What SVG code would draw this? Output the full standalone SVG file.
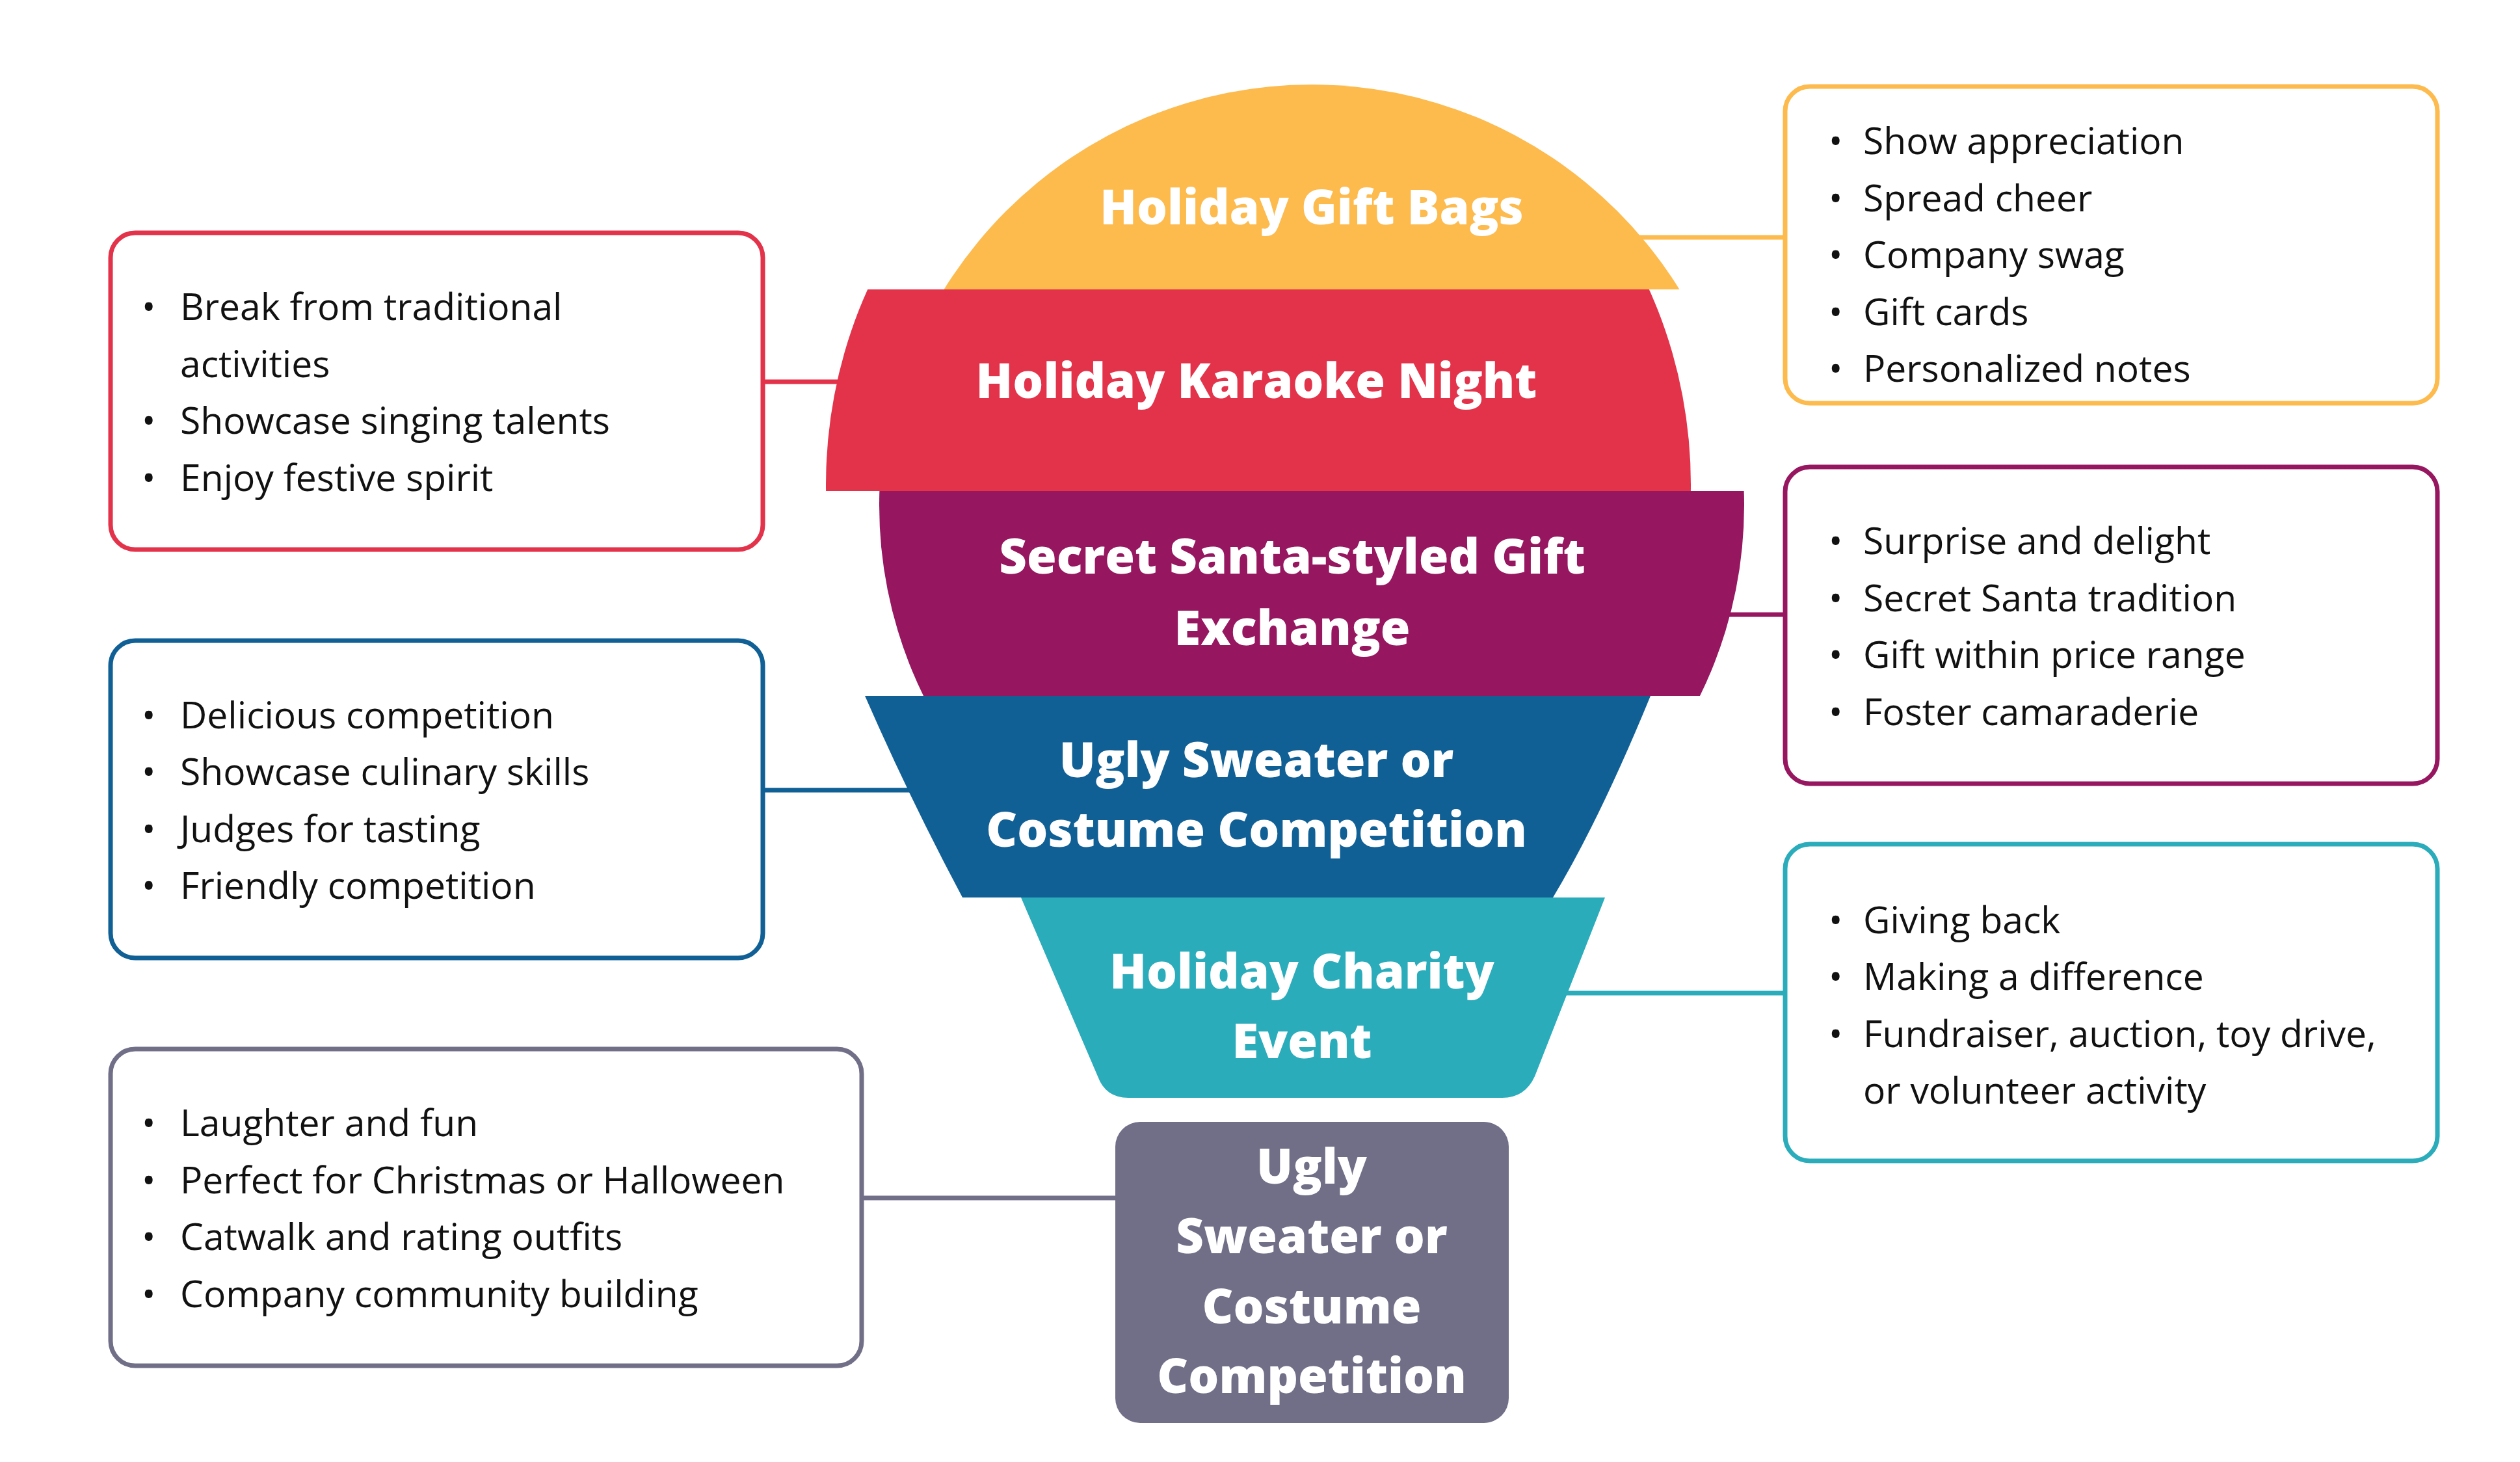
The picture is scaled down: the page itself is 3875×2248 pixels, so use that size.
<svg xmlns="http://www.w3.org/2000/svg" width="3875" height="2248" viewBox="0 0 3875 2248">
<style>
.t{font-family:"Open Sans","Liberation Sans",sans-serif;font-weight:800;font-size:74px;fill:#fff;text-anchor:middle}
.b{font-family:"Open Sans","Liberation Sans",sans-serif;font-size:57px;fill:#111}
.box{fill:#fff;stroke-width:7}
.c{stroke-width:7;fill:none}
</style>
<defs>
<clipPath id="cy"><rect x="0" y="0" width="3875" height="445"/></clipPath>
<clipPath id="cr"><rect x="0" y="445" width="3875" height="310"/></clipPath>
<clipPath id="cp"><rect x="0" y="755" width="3875" height="315"/></clipPath>
</defs>
<rect width="3875" height="2248" fill="#fff"/>
<g id="connectors">
<line class="c" stroke="#FDBA4D" x1="2500" y1="365" x2="2745" y2="365"/>
<line class="c" stroke="#E3334B" x1="1173" y1="587" x2="1320" y2="587"/>
<line class="c" stroke="#961660" x1="2650" y1="945" x2="2745" y2="945"/>
<line class="c" stroke="#106096" x1="1173" y1="1215" x2="1420" y2="1215"/>
<line class="c" stroke="#2AACBB" x1="2390" y1="1527" x2="2745" y2="1527"/>
<line class="c" stroke="#716F87" x1="1325" y1="1842" x2="1715" y2="1842"/>
</g>
<g id="n-gift">
<circle cx="2017" cy="795" r="665" fill="#FDBA4D" clip-path="url(#cy)"/>
<text class="t" x="2017" y="345">Holiday Gift Bags</text>
</g>
<g id="n-karaoke">
<ellipse cx="1935" cy="745" rx="665" ry="700" fill="#E3334B" clip-path="url(#cr)"/>
<text class="t" x="1932" y="612">Holiday Karaoke Night</text>
</g>
<g id="n-santa">
<circle cx="2017" cy="777" r="665" fill="#961660" clip-path="url(#cp)"/>
<text class="t" x="1987" y="882">Secret Santa-styled Gift</text>
<text class="t" x="1987" y="992">Exchange</text>
</g>
<g id="n-sweater">
<path d="M1330 1070 L2538 1070 Q2460 1260 2388 1380 L1480 1380 Q1400 1230 1330 1070 Z" fill="#106096"/>
<text class="t" x="1932" y="1195">Ugly Sweater or</text>
<text class="t" x="1932" y="1302">Costume Competition</text>
</g>
<g id="n-charity">
<path d="M1570 1380 L2468 1380 L2360 1655 Q2345 1688 2310 1688 L1735 1688 Q1700 1688 1688 1655 Z" fill="#2AACBB"/>
<text class="t" x="2002" y="1520">Holiday Charity</text>
<text class="t" x="2002" y="1627">Event</text>
</g>
<g id="n-grey">
<rect x="1715" y="1725" width="605" height="463" rx="38" fill="#716F87"/>
<text class="t" x="2017" y="1820">Ugly</text>
<text class="t" x="2017" y="1927">Sweater or</text>
<text class="t" x="2017" y="2035">Costume</text>
<text class="t" x="2017" y="2142">Competition</text>
</g>
<g id="b-yellow">
<rect class="box" stroke="#FDBA4D" x="2745" y="133" width="1003" height="487" rx="38"/>
<text class="b"><tspan x="2812" y="237">•</tspan><tspan x="2865" y="237">Show appreciation</tspan><tspan x="2812" y="325">•</tspan><tspan x="2865" y="325">Spread cheer</tspan><tspan x="2812" y="412">•</tspan><tspan x="2865" y="412">Company swag</tspan><tspan x="2812" y="500">•</tspan><tspan x="2865" y="500">Gift cards</tspan><tspan x="2812" y="587">•</tspan><tspan x="2865" y="587">Personalized notes</tspan></text>
</g>
<g id="b-red">
<rect class="box" stroke="#E3334B" x="170" y="358" width="1003" height="487" rx="38"/>
<text class="b"><tspan x="218" y="492">•</tspan><tspan x="277" y="492">Break from traditional</tspan><tspan x="277" y="580">activities</tspan><tspan x="218" y="667">•</tspan><tspan x="277" y="667">Showcase singing talents</tspan><tspan x="218" y="755">•</tspan><tspan x="277" y="755">Enjoy festive spirit</tspan></text>
</g>
<g id="b-purple">
<rect class="box" stroke="#961660" x="2745" y="718" width="1003" height="487" rx="38"/>
<text class="b"><tspan x="2812" y="852">•</tspan><tspan x="2865" y="852">Surprise and delight</tspan><tspan x="2812" y="940">•</tspan><tspan x="2865" y="940">Secret Santa tradition</tspan><tspan x="2812" y="1027">•</tspan><tspan x="2865" y="1027">Gift within price range</tspan><tspan x="2812" y="1115">•</tspan><tspan x="2865" y="1115">Foster camaraderie</tspan></text>
</g>
<g id="b-blue">
<rect class="box" stroke="#106096" x="170" y="985" width="1003" height="488" rx="38"/>
<text class="b"><tspan x="218" y="1120">•</tspan><tspan x="277" y="1120">Delicious competition</tspan><tspan x="218" y="1207">•</tspan><tspan x="277" y="1207">Showcase culinary skills</tspan><tspan x="218" y="1295">•</tspan><tspan x="277" y="1295">Judges for tasting</tspan><tspan x="218" y="1382">•</tspan><tspan x="277" y="1382">Friendly competition</tspan></text>
</g>
<g id="b-teal">
<rect class="box" stroke="#2AACBB" x="2745" y="1298" width="1003" height="487" rx="38"/>
<text class="b"><tspan x="2812" y="1435">•</tspan><tspan x="2865" y="1435">Giving back</tspan><tspan x="2812" y="1522">•</tspan><tspan x="2865" y="1522">Making a difference</tspan><tspan x="2812" y="1610">•</tspan><tspan x="2865" y="1610">Fundraiser, auction, toy drive,</tspan><tspan x="2865" y="1697">or volunteer activity</tspan></text>
</g>
<g id="b-grey">
<rect class="box" stroke="#716F87" x="170" y="1613" width="1155" height="487" rx="38"/>
<text class="b"><tspan x="218" y="1747">•</tspan><tspan x="277" y="1747">Laughter and fun</tspan><tspan x="218" y="1835">•</tspan><tspan x="277" y="1835">Perfect for Christmas or Halloween</tspan><tspan x="218" y="1922">•</tspan><tspan x="277" y="1922">Catwalk and rating outfits</tspan><tspan x="218" y="2010">•</tspan><tspan x="277" y="2010">Company community building</tspan></text>
</g>
</svg>
